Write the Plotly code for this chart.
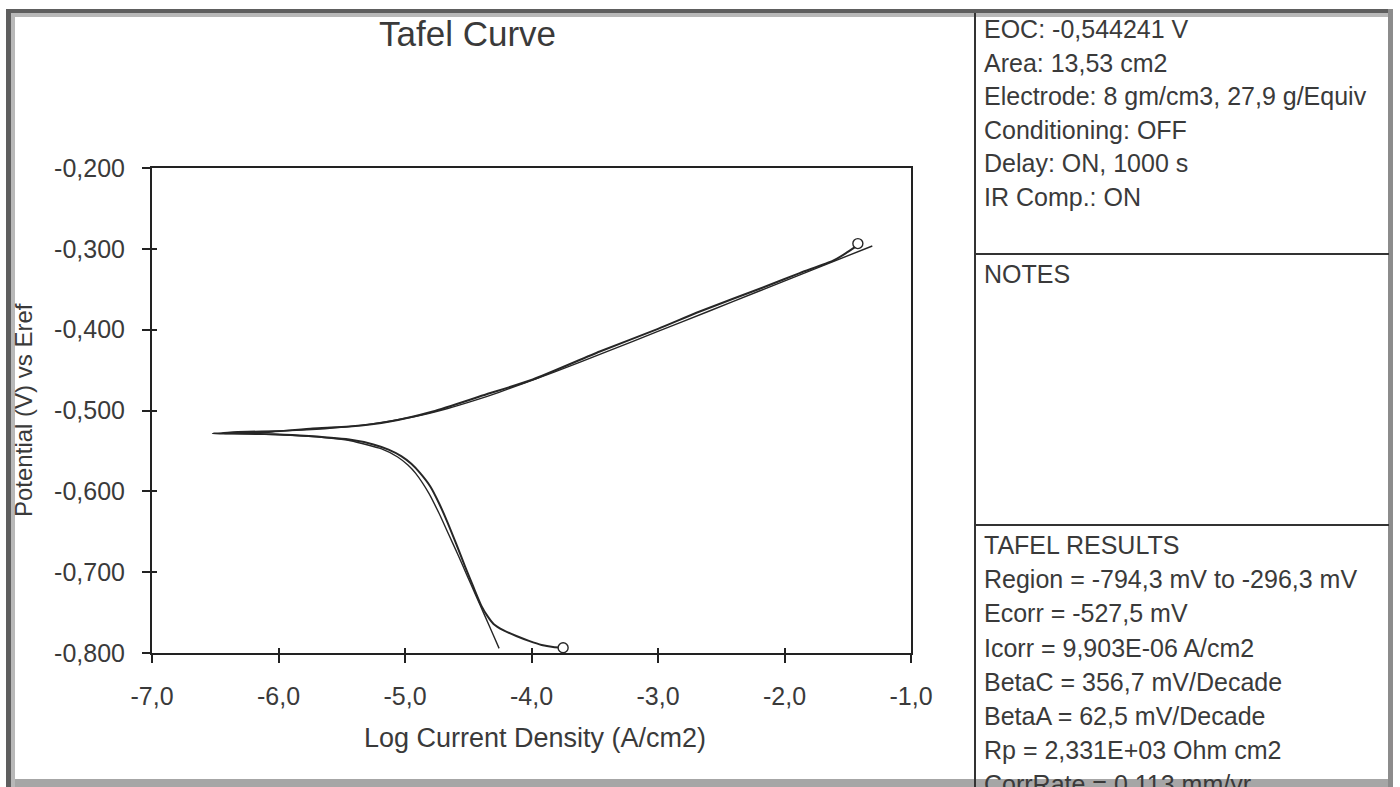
import plotly.graph_objects as go

# ---------------- data ----------------
x_ticks = [-7, -6, -5, -4, -3, -2, -1]
x_tick_labels = ["-7,0", "-6,0", "-5,0", "-4,0", "-3,0", "-2,0", "-1,0"]
y_ticks = [-0.8, -0.7, -0.6, -0.5, -0.4, -0.3, -0.2]
y_tick_labels = ["-0,800", "-0,700", "-0,600", "-0,500", "-0,400", "-0,300", "-0,200"]

# measured curve, cathodic branch (from the lowest potential up to Ecorr)
cath_logi = [-3.75, -3.83, -3.92, -4.02, -4.12, -4.22, -4.30, -4.345, -4.395, -4.46,
             -4.525, -4.595, -4.665, -4.73, -4.80, -4.88, -4.95, -5.03, -5.13, -5.25,
             -5.44, -5.83, -6.10, -6.35, -6.52]
cath_E = [-0.7935, -0.7925, -0.7900, -0.7850, -0.7790, -0.7720, -0.7640, -0.7550, -0.7420, -0.7180,
          -0.6930, -0.6650, -0.6380, -0.6150, -0.5940, -0.5775, -0.5660, -0.5565, -0.5485, -0.5420,
          -0.5360, -0.5310, -0.5292, -0.5286, -0.5283]

# measured curve, anodic branch (from Ecorr up)
anod_logi = [-6.52, -6.35, -6.05, -5.73, -5.44, -5.12, -4.78, -4.38, -3.99, -3.46,
             -3.00, -2.67, -2.14, -1.88, -1.62, -1.52, -1.42]
anod_E = [-0.5283, -0.5278, -0.5262, -0.5222, -0.5198, -0.5136, -0.5012, -0.4812, -0.4617, -0.4270,
          -0.3990, -0.3775, -0.3460, -0.3300, -0.3150, -0.3060, -0.2955]

# Tafel fit curve
fit_logi = [-4.256, -4.303, -4.373, -4.4435, -4.514, -4.584, -4.657, -4.730, -4.811, -4.917,
            -4.977, -5.058, -5.185, -5.43, -5.54, -5.70, -5.986, -6.37, -6.45, -6.36,
            -5.953, -5.635, -5.298, -4.921, -4.6625, -4.449, -4.257, -3.821, -3.41, -3.006,
            -2.604, -2.204, -1.804, -1.306]
fit_E = [-0.7943, -0.7775, -0.7525, -0.7275, -0.7025, -0.6775, -0.6525, -0.6275, -0.6025, -0.5775,
         -0.5675, -0.5575, -0.5475, -0.5375, -0.5350, -0.5325, -0.5300, -0.5285, -0.5280, -0.5265,
         -0.5250, -0.5225, -0.5175, -0.5075, -0.4975, -0.4875, -0.4775, -0.4525, -0.4275, -0.4025,
         -0.3775, -0.3525, -0.3275, -0.2965]

# end-of-region markers
marker_logi = [-1.42, -3.75]
marker_E = [-0.2935, -0.7935]

title_text = "Tafel Curve"
x_title = "Log Current Density (A/cm2)"
y_title = "Potential (V) vs Eref"

info_lines = ["EOC: -0,544241 V", "Area: 13,53 cm2", "Electrode: 8 gm/cm3, 27,9 g/Equiv",
              "Conditioning: OFF", "Delay: ON, 1000 s", "IR Comp.: ON"]
notes_lines = ["NOTES"]
tafel_lines = ["TAFEL RESULTS", "Region = -794,3 mV to -296,3 mV", "Ecorr = -527,5 mV",
               "Icorr = 9,903E-06 A/cm2", "BetaC = 356,7 mV/Decade", "BetaA = 62,5 mV/Decade",
               "Rp = 2,331E+03 Ohm cm2", "CorrRate = 0,113 mm/yr"]

# ---------------- layout geometry (pixels) ----------------
W, H = 1400, 787
L, R, T, B = 152, 911, 168, 653


def px(x):
    return (x - L) / (R - L)


def py(y):
    return (B - y) / (B - T)


FONT = "Liberation Sans, Arial, sans-serif"
INK = "#262626"
TXT = "#3a3a3a"

fig = go.Figure()

fig.add_trace(go.Scatter(
    x=cath_logi + anod_logi[1:], y=cath_E + anod_E[1:],
    mode="lines", line=dict(color=INK, width=2, shape="spline", smoothing=0.6),
    hoverinfo="skip"))
fig.add_trace(go.Scatter(
    x=fit_logi, y=fit_E, mode="lines",
    line=dict(color=INK, width=1.4, shape="spline", smoothing=0.6), hoverinfo="skip"))
fig.add_trace(go.Scatter(
    x=marker_logi, y=marker_E, mode="markers",
    marker=dict(symbol="circle", size=10, color="white", line=dict(color=INK, width=1.4)),
    hoverinfo="skip", cliponaxis=False))
# invisible trace on overlay axes (inner halves of the tick crosses)
fig.add_trace(go.Scatter(x=[-7], y=[-0.8], xaxis="x2", yaxis="y2", mode="markers",
                         marker=dict(opacity=0), hoverinfo="skip"))

axis_common = dict(showgrid=False, zeroline=False, showline=True, linewidth=2,
                   linecolor="#222", mirror=True, ticks="outside", ticklen=8,
                   tickwidth=1.6, tickcolor="#222",
                   tickfont=dict(family=FONT, size=25, color=TXT))

fig.update_layout(
    width=W, height=H,
    margin=dict(l=L, r=W - R, t=T, b=H - B, pad=0),
    paper_bgcolor="white", plot_bgcolor="white",
    showlegend=False,
    xaxis=dict(range=[-7, -1], tickvals=x_ticks, ticktext=x_tick_labels,
               ticklabelstandoff=12, **axis_common),
    yaxis=dict(range=[-0.8, -0.2], tickvals=y_ticks, ticktext=y_tick_labels,
               ticklabelstandoff=12, **axis_common),
    xaxis2=dict(range=[-7, -1], overlaying="x", anchor="y2", side="bottom",
                tickvals=x_ticks, ticks="inside", ticklen=5, tickwidth=1.6, tickcolor="#222",
                showticklabels=False, showgrid=False, zeroline=False, showline=False),
    yaxis2=dict(range=[-0.8, -0.2], overlaying="y", anchor="x2", side="left",
                tickvals=y_ticks, ticks="inside", ticklen=5, tickwidth=1.6, tickcolor="#222",
                showticklabels=False, showgrid=False, zeroline=False, showline=False),
)

ann = []
ann.append(dict(text=title_text, x=px(467), y=py(33), xref="paper", yref="paper",
                showarrow=False, xanchor="center", yanchor="middle",
                font=dict(family=FONT, size=35, color=TXT)))
ann.append(dict(text=x_title, x=px(535), y=py(738), xref="paper", yref="paper",
                showarrow=False, xanchor="center", yanchor="middle",
                font=dict(family=FONT, size=27, color=TXT)))
ann.append(dict(text=y_title, x=px(23), y=py(410), xref="paper", yref="paper",
                showarrow=False, xanchor="center", yanchor="middle", textangle=-90,
                font=dict(family=FONT, size=24, color=TXT)))

TX = 982
PFS = 25
for i, s in enumerate(info_lines):
    ann.append(dict(text=s, x=px(TX), y=py(29 + 33.6 * i), xref="paper", yref="paper",
                    showarrow=False, xanchor="left", yanchor="middle",
                    font=dict(family=FONT, size=PFS, color=TXT)))
for i, s in enumerate(notes_lines):
    ann.append(dict(text=s, x=px(TX), y=py(274 + 33.6 * i), xref="paper", yref="paper",
                    showarrow=False, xanchor="left", yanchor="middle",
                    font=dict(family=FONT, size=PFS, color=TXT)))
for i, s in enumerate(tafel_lines):
    ann.append(dict(text=s, x=px(TX), y=py(545 + 34.2 * i), xref="paper", yref="paper",
                    showarrow=False, xanchor="left", yanchor="middle",
                    font=dict(family=FONT, size=PFS, color=TXT)))
fig.update_layout(annotations=ann)


def rect(x0, y0, x1, y1, fill):
    return dict(type="rect", xref="paper", yref="paper", x0=px(x0), x1=px(x1),
                y0=py(y0), y1=py(y1), fillcolor=fill, line=dict(width=0), layer="above")


def seg(x0, y0, x1, y1, color="#333", width=2):
    return dict(type="line", xref="paper", yref="paper", x0=px(x0), x1=px(x1),
                y0=py(y0), y1=py(y1), line=dict(color=color, width=width), layer="above")


shapes = [
    # window frame with soft shadow
    rect(6, 9, 1393, 13, "#5e5e5e"),
    rect(6, 13, 1393, 17, "#b8b8b8"),
    rect(6, 9, 11, 787, "#5e5e5e"),
    rect(11, 13, 15, 787, "#b8b8b8"),
    rect(1388, 9, 1393, 787, "#8c8c8c"),
    rect(15, 779, 1388, 787, "#a6a6a6"),
    # info panel separators
    seg(975, 13, 975, 787),
    seg(975, 254, 1389, 254),
    seg(975, 525, 1389, 525),
]
fig.update_layout(shapes=shapes)

fig.write_html("out.html")
